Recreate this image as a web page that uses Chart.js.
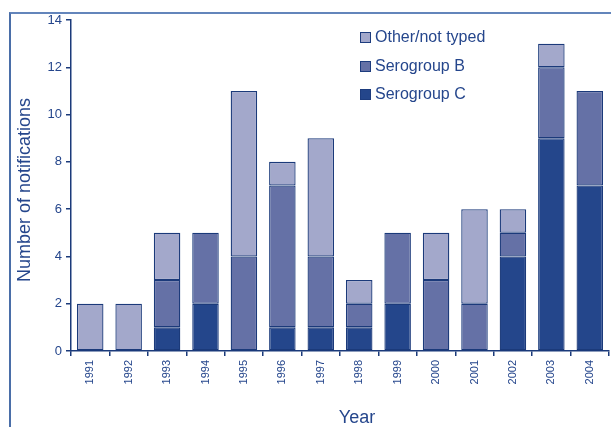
<!DOCTYPE html>
<html>
<head>
<meta charset="utf-8">
<script src="https://cdn.jsdelivr.net/npm/chart.js@4/dist/chart.umd.min.js"></script>
<style>
  body { margin: 0; background: #fff; overflow: hidden; }
  #wrap { position: relative; width: 611px; height: 427px; }
  #frame { position: absolute; left: 9px; top: 12px; width: 620px; height: 430px;
           border-left: 2px solid #4a6ea8; border-top: 2px solid #6385bb; }
  canvas { position: absolute; left: 0; top: 0; }
  .key { position: absolute; left: 360px; top: 28px; font: 16px "Liberation Sans", Arial, sans-serif; color: #25468c; }
  .key div { height: 28.5px; display: flex; align-items: flex-start; }
  .key span.sw { display: inline-block; width: 9px; height: 9px; border: 1px solid #1d3c7e; margin: 4px 4px 0 0; }
</style>
</head>
<body>
<div id="wrap">
  <div id="frame"></div>
  <canvas id="c" width="611" height="427"></canvas>
  <div class="key" id="key"></div>
</div>
<script>
const years = ['1991', '1992', '1993', '1994', '1995', '1996', '1997', '1998', '1999', '2000', '2001', '2002', '2003', '2004'];
const serogroupC = [0, 0, 1, 2, 0, 1, 1, 1, 2, 0, 0, 4, 9, 7];
const serogroupB = [0, 0, 2, 3, 4, 6, 3, 1, 3, 3, 2, 1, 3, 4];
const otherNotTyped = [2, 2, 2, 0, 7, 1, 5, 1, 0, 2, 4, 1, 1, 0];
const yTicks = [0, 2, 4, 6, 8, 10, 12, 14];

const textColor = '#25468c';
const edge = '#1b3a7a';
const font = '"Liberation Sans", Arial, sans-serif';

const data = {
  labels: years,
  datasets: [
    { label: 'Serogroup C', data: serogroupC, backgroundColor: '#24468b' },
    { label: 'Serogroup B', data: serogroupB, backgroundColor: '#6571a6' },
    { label: 'Other/not typed', data: otherNotTyped, backgroundColor: '#a3a8cb' },
  ],
};
data.datasets.forEach(ds => {
  ds.borderColor = edge;
  ds.borderWidth = 1.3;
  ds.borderSkipped = false;
  ds.categoryPercentage = 1;
  ds.barPercentage = 0.69;
});

// legend box, top entry first like the original
const key = document.getElementById('key');
data.datasets.slice().reverse().forEach(ds => {
  const row = document.createElement('div');
  row.innerHTML = `<span class="sw" style="background:${ds.backgroundColor}"></span>${ds.label}`;
  key.append(row);
});

// axis titles sit a little off centre in the original, so draw them by hand
const axisTitles = {
  id: 'axisTitles',
  afterDraw(chart) {
    const { ctx, chartArea } = chart;
    ctx.save();
    ctx.fillStyle = textColor;
    ctx.font = `18px ${font}`;
    ctx.textAlign = 'center';
    ctx.textBaseline = 'middle';
    ctx.fillText('Year', chartArea.left + 286, chartArea.bottom + 67);
    ctx.translate(25, chartArea.top + 170);
    ctx.rotate(-Math.PI / 2);
    ctx.fillText('Number of notifications', 0, 0);
    ctx.restore();
  },
};

const options = {
  responsive: false,
  animation: false,
  layout: { padding: { left: 0, top: 20, right: 2, bottom: 0 } },
  plugins: { legend: { display: false }, tooltip: { enabled: false } },
  scales: {
    x: {
      stacked: true,
      afterFit: s => { s.height = 76; },
      grid: { drawOnChartArea: false, color: edge, tickLength: 5, lineWidth: 1.5 },
      border: { color: edge, width: 1.5 },
      ticks: { color: textColor, font: { family: font, size: 11 }, minRotation: 90, maxRotation: 90, padding: 4 },
    },
    y: {
      stacked: true,
      min: 0,
      max: 14,
      afterFit: s => { s.width = 71; },
      afterBuildTicks: s => { s.ticks = yTicks.map(v => ({ value: v })); },
      grid: { drawOnChartArea: false, color: edge, tickLength: 5, lineWidth: 1.5 },
      border: { color: edge, width: 1.5 },
      ticks: { color: textColor, font: { family: font, size: 13 }, padding: 4 },
    },
  },
};

new Chart(document.getElementById('c'), { type: 'bar', data, options, plugins: [axisTitles] });
</script>
</body>
</html>
